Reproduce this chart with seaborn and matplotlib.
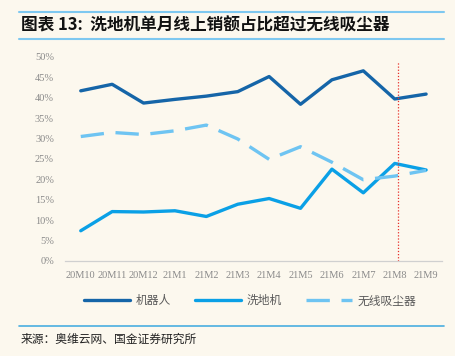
import matplotlib
matplotlib.use("Agg")
import matplotlib.pyplot as plt
import seaborn as sns
import pandas as pd
from matplotlib.lines import Line2D

months = ["20M10", "20M11", "20M12", "21M1", "21M2", "21M3",
          "21M4", "21M5", "21M6", "21M7", "21M8", "21M9"]
robot = [41.7, 43.3, 38.7, 39.6, 40.4, 41.5, 45.2, 38.4, 44.4, 46.6, 39.7, 40.9]
floor_washer = [7.4, 12.1, 12.0, 12.3, 10.9, 13.9, 15.3, 12.9, 22.5, 16.7, 23.9, 22.3]
cordless_vac = [30.5, 31.5, 31.0, 31.9, 33.3, 29.9, 24.9, 28.0, 24.2, 19.9, 20.8, 22.2]
series_names = ["机器人", "洗地机", "无线吸尘器"]
yticks = [0, 5, 10, 15, 20, 25, 30, 35, 40, 45, 50]
marker_month = "21M8"

title = "图表 13:  洗地机单月线上销额占比超过无线吸尘器"
source = "来源：奥维云网、国金证券研究所"

bg = "#FCF8EE"
colors = ["#1565A8", "#0AA0E6", "#6EC4F2"]

sns.set_theme(style="white")
plt.rcParams["font.family"] = ["Noto Sans CJK SC", "DejaVu Sans"]

df = pd.DataFrame({
    "idx": list(range(len(months))) * 3,
    "value": robot + floor_washer + cordless_vac,
    "series": [series_names[0]] * len(months) + [series_names[1]] * len(months)
              + [series_names[2]] * len(months),
})

fig = plt.figure(figsize=(4.55, 3.56), dpi=100, facecolor=bg)
ax = fig.add_axes([0.143, 0.267, 0.828, 0.573])
ax.set_facecolor(bg)

sns.lineplot(data=df, x="idx", y="value", hue="series", style="series",
             palette=colors, dashes={series_names[0]: "", series_names[1]: "",
                                     series_names[2]: (7, 3.5)},
             linewidth=2.4, ax=ax, legend=False)

ax.set_xlim(-0.5, len(months) - 0.5)
ax.set_ylim(0, 50)
ax.set_yticks(yticks)
ax.set_yticklabels([f"{v}%" for v in yticks], family="Liberation Serif",
                   fontsize=7.5, color="#8A8A8A")
ax.set_xticks(range(len(months)))
ax.set_xticklabels(months, family="Liberation Serif", fontsize=7.5, color="#8A8A8A")
ax.set_xticks([i - 0.5 for i in range(len(months) + 1)], minor=True)
ax.tick_params(axis="x", which="major", length=0, pad=7)
ax.tick_params(axis="x", which="minor", length=3, direction="in", color="#D0D0D0", width=0.8)
ax.tick_params(axis="y", length=0, pad=8)
ax.set_xlabel("")
ax.set_ylabel("")
for s in ["top", "right", "left"]:
    ax.spines[s].set_visible(False)
ax.spines["bottom"].set_color("#D0D0D0")
ax.spines["bottom"].set_linewidth(0.9)

mx = months.index(marker_month) + 0.1
ax.vlines(mx, 0, 48.8, colors="#E8302A", linestyles=(0, (1, 1.5)), linewidth=0.9)

handles = [Line2D([], [], color=colors[0], lw=2.4),
           Line2D([], [], color=colors[1], lw=2.4),
           Line2D([], [], color=colors[2], lw=2.4, dashes=(7, 3.5))]
fig.legend(handles, series_names, loc="center", bbox_to_anchor=(0.55, 0.155),
           ncol=3, frameon=False, fontsize=8.5, handlelength=3.9,
           columnspacing=2.0, handletextpad=0.5, labelcolor="#5A5A5A")

line_c = "#7EC8F0"
fig.add_artist(Line2D([19 / 455, 444 / 455], [1 - 12 / 356, 1 - 12 / 356],
                      color=line_c, lw=1.5, transform=fig.transFigure))
fig.add_artist(Line2D([19 / 455, 444 / 455], [1 - 38.5 / 356, 1 - 38.5 / 356],
                      color=line_c, lw=1.5, transform=fig.transFigure))
fig.add_artist(Line2D([19 / 455, 444 / 455], [1 - 326 / 356, 1 - 326 / 356],
                      color="#4AAEE0", lw=1.2, transform=fig.transFigure))

fig.text(21 / 455, 1 - 25.5 / 356, title, fontsize=12, fontweight="bold",
         color="#111111", va="center", ha="left")
fig.text(21 / 455, 1 - 339 / 356, source, fontsize=8.5, color="#222222",
         va="center", ha="left")

fig.savefig("out.png", dpi=100, facecolor=bg)
